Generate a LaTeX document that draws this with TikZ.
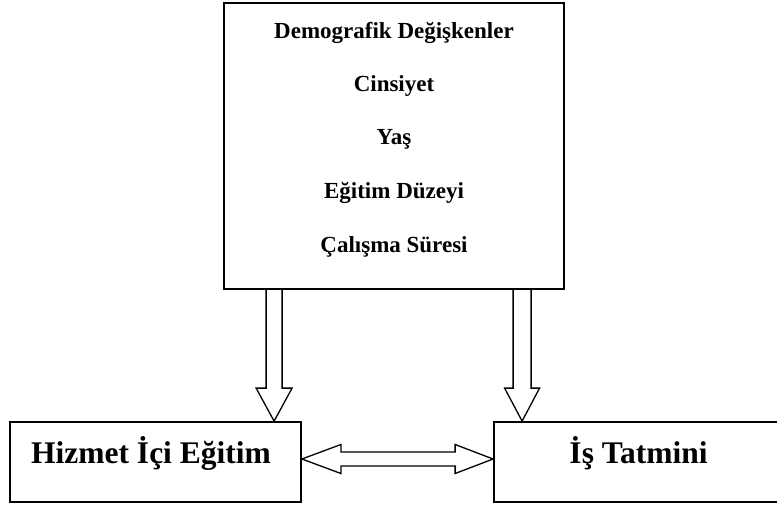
\documentclass[tikz,border=0pt]{standalone}
\usepackage{fontspec}
\setmainfont{Liberation Serif}
\usetikzlibrary{calc}
\newcommand{\downblock}[5]{% start, tip, half shaft, half head, head length
  \draw[blockarrow] ($(#1)+(-#3,0)$) -- ($(#2)+(-#3,-#5)$) -- ($(#2)+(-#4,-#5)$) -- (#2)
    -- ($(#2)+(#4,-#5)$) -- ($(#2)+(#3,-#5)$) -- ($(#1)+(#3,0)$);}
\begin{document}
\begin{tikzpicture}[x=1pt,y=-1pt,
  boxstyle/.style={draw=black,line width=1.8pt,inner sep=0pt,fill=none},
  blockarrow/.style={draw=black,line width=1.3pt,line join=miter},
  toptext/.style={anchor=base,inner sep=0pt,font=\bfseries\fontsize{23}{27}\selectfont},
  bottext/.style={anchor=base,inner sep=0pt,font=\bfseries\fontsize{31.5}{36}\selectfont}]
\useasboundingbox (0,0) rectangle (777,507);
\clip (0,0) rectangle (777,507);
% boxes
\node[boxstyle,minimum width=340pt,minimum height=286pt] (top) at (394,146) {};
\node[boxstyle,minimum width=291pt,minimum height=80pt] (hie) at (155.5,462) {};
\node[boxstyle,minimum width=288pt,minimum height=80pt] (ist) at (638,462) {};
% texts
\node[toptext] (t1) at (394,38.5) {Demografik Değişkenler};
\node[toptext] (t2) at (394,91.5) {Cinsiyet};
\node[toptext] (t3) at (394,144.5) {Yaş};
\node[toptext] (t4) at (394,198.5) {Eğitim Düzeyi};
\node[toptext] (t5) at (394,252) {Çalışma Süresi};
\node[bottext] (b1) at (151,463) {Hizmet İçi Eğitim};
\node[bottext] (b2) at (638.5,463) {İş Tatmini};
% arrow end points
\coordinate (s1) at ([xshift=51pt]top.south west);
\coordinate (e1) at ([xshift=265pt]hie.north west);
\coordinate (s2) at ([xshift=299pt]top.south west);
\coordinate (e2) at ([xshift=29pt]ist.north west);
\coordinate (L) at ([yshift=3pt]hie.east);
\coordinate (R) at ([yshift=3pt]ist.west);
% down arrows
\downblock{s1}{e1}{8}{18}{33}
\downblock{s2}{e2}{9}{17.5}{33}
% double arrow
\draw[blockarrow] (L) -- ($(L)+(39,-14.5)$) -- ($(L)+(39,-7)$) -- ($(R)+(-38,-7)$)
  -- ($(R)+(-38,-14.5)$) -- (R) -- ($(R)+(-38,14.5)$) -- ($(R)+(-38,7)$)
  -- ($(L)+(39,7)$) -- ($(L)+(39,14.5)$) -- cycle;
\end{tikzpicture}
\end{document}
